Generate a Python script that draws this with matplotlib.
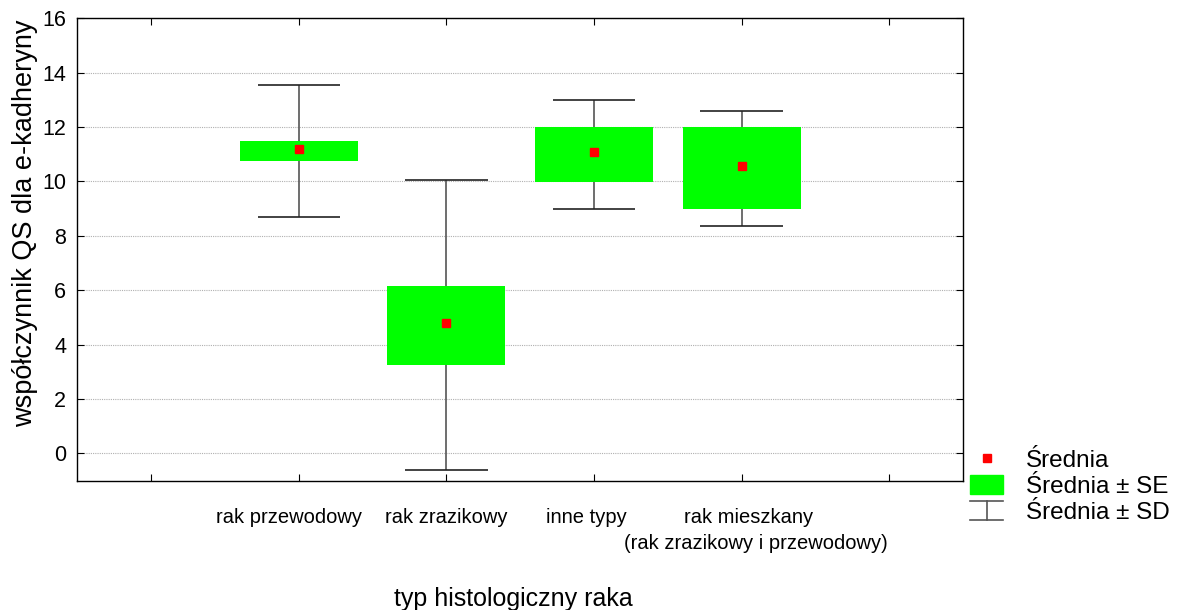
import numpy as np
import matplotlib
matplotlib.use("Agg")
import matplotlib.pyplot as plt
from matplotlib.lines import Line2D
from matplotlib.patches import Rectangle
from matplotlib.legend_handler import HandlerBase
from matplotlib.transforms import ScaledTranslation, blended_transform_factory

plt.rcParams['font.family'] = ['Liberation Sans', 'DejaVu Sans']

# histological types and QS coefficient summaries
categories = ["rak przewodowy", "rak zrazikowy", "inne typy", "rak mieszkany"]
category_notes = ["", "", "", "(rak zrazikowy i przewodowy)"]
means = [11.18, 4.81, 11.10, 10.56]
se_low = [10.74, 3.26, 9.98, 9.00]
se_high = [11.49, 6.16, 12.00, 12.00]
sd_low = [8.68, -0.62, 9.00, 8.38]
sd_high = [13.56, 10.07, 12.99, 12.60]

GREEN = "#00ff00"
RED = "#ff0000"
WHISKER = "#555555"


class SDHandler(HandlerBase):
    """Draws the I-beam symbol used for the SD range in the legend"""
    def create_artists(self, legend, orig_handle, xdescent, ydescent,
                       width, height, fontsize, trans):
        x0 = -xdescent
        x1 = x0 + width
        xm = (x0 + x1) / 2
        y0 = -ydescent
        y1 = y0 + height
        kw = dict(color=WHISKER, lw=1.2, transform=trans)
        return [Line2D([x0, x1], [y0, y0], **kw),
                Line2D([x0, x1], [y1, y1], **kw),
                Line2D([xm, xm], [y0, y1], **kw)]


fig = plt.figure(figsize=(11.9, 6.1), dpi=100)
ax = fig.add_axes([0.0651, 0.212, 0.7441, 0.758])

x = np.arange(1, len(categories) + 1)

# SD whiskers sit behind the SE boxes
ax.vlines(x, sd_low, sd_high, color=WHISKER, lw=1.2, zorder=2)
ax.hlines(sd_low, x - 0.28, x + 0.28, color="#222222", lw=1.2, zorder=2)
ax.hlines(sd_high, x - 0.28, x + 0.28, color="#222222", lw=1.2, zorder=2)

se_h = np.array(se_high) - np.array(se_low)
ax.bar(x, se_h, bottom=se_low, width=0.8, color=GREEN, zorder=3)
ax.plot(x, means, "s", color=RED, ms=6, zorder=4)

ax.set_xlim(-0.5, 5.5)
ax.set_ylim(-1, 16)
ax.set_yticks(np.arange(0, 17, 2))
ax.set_xticks(np.arange(0, 6))
ax.set_xticklabels([""] + categories + [""])
ax.yaxis.grid(True, linestyle=(0, (1, 1)), color="#b0b0b0", lw=0.8)
ax.set_axisbelow(True)
ax.tick_params(direction="in", top=True, right=True, length=5,
               width=0.8, colors="black")
ax.tick_params(axis="x", labelsize=14.5, pad=20)
ax.tick_params(axis="y", labelsize=15.5, pad=8)
for s in ax.spines.values():
    s.set_linewidth(1.0)

# nudge a few category labels the way they sit under the ticks
offsets = [0, -10, 0, -8, 7, 0]
for lab, dx in zip(ax.get_xticklabels(), offsets):
    lab.set_transform(lab.get_transform() +
                      ScaledTranslation(dx / 100, 0, fig.dpi_scale_trans))

# second line under a category name
trans = blended_transform_factory(ax.transData, ax.transAxes)
for xi, note in zip(x, category_notes):
    if note:
        ax.text(xi, -0.115, note, transform=trans + ScaledTranslation(
                    0.14, 0, fig.dpi_scale_trans),
                ha="center", va="top", fontsize=14.5)

ax.set_xlabel("typ histologiczny raka", fontsize=18)
ax.xaxis.set_label_coords(0.492, -0.23)
ax.set_ylabel("współczynnik QS dla e-kadheryny", fontsize=19.5)
ax.yaxis.set_label_coords(-0.045, 0.557)

handles = [Line2D([], [], ls="none", marker="s", ms=6, color=RED),
           Rectangle((0, 0), 1, 1, color=GREEN),
           object()]
labels = ["Średnia", "Średnia ± SE", "Średnia ± SD"]
fig.legend(handles, labels, loc="lower left",
           bbox_to_anchor=(0.797, 0.105), frameon=False, fontsize=17.5,
           handlelength=1.35, handleheight=0.85, labelspacing=0.12,
           handletextpad=0.95, handler_map={object: SDHandler()})

fig.savefig("out.png", dpi=100)
